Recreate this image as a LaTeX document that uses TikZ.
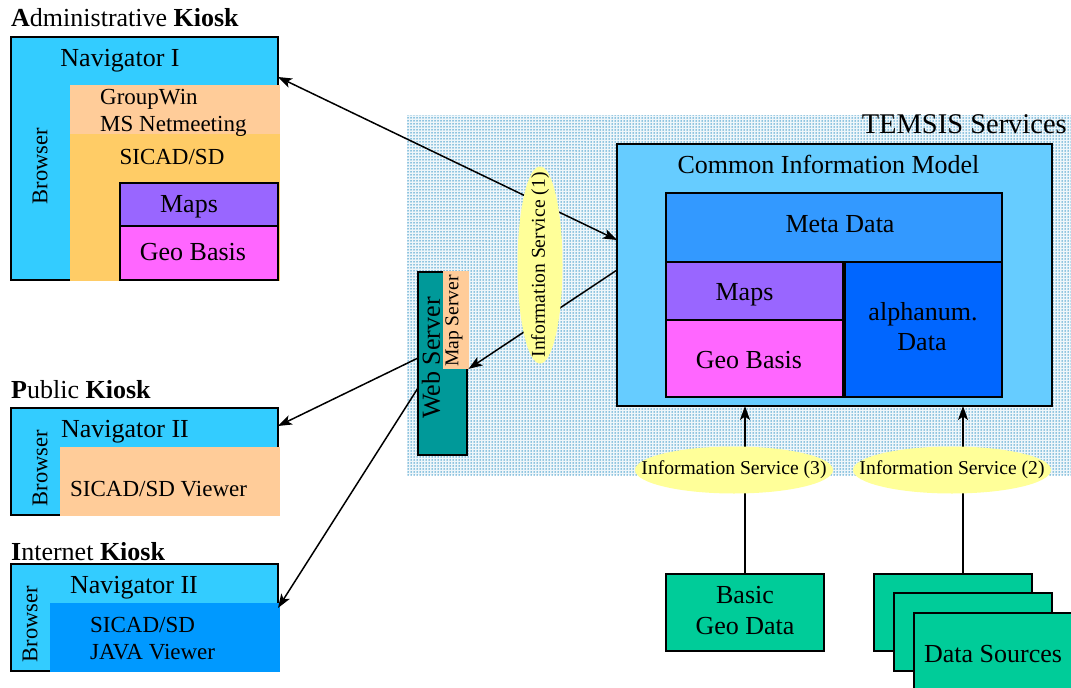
\documentclass[tikz,border=0pt]{standalone}
\usepackage{fontspec}
\setmainfont{Liberation Serif}
\usetikzlibrary{arrows.meta,shapes.geometric,patterns.meta}
\definecolor{kcyan}{HTML}{33CCFF}
\definecolor{kpeach}{HTML}{FFCC99}
\definecolor{korange}{HTML}{FFCC66}
\definecolor{kpurple}{HTML}{9966FF}
\definecolor{kmagenta}{HTML}{FF66FF}
\definecolor{klblue}{HTML}{66CCFF}
\definecolor{kmeta}{HTML}{3399FF}
\definecolor{kalpha}{HTML}{0066FF}
\definecolor{kjava}{HTML}{0099FF}
\definecolor{kteal}{HTML}{009999}
\definecolor{kgreen}{HTML}{00CC99}
\definecolor{kyellow}{HTML}{FFFF99}
\definecolor{kdots}{HTML}{2A8FC4}
\definecolor{kdotbg}{HTML}{EEF6FA}
\tikzset{kt/.tip={Stealth[length=14pt,width=10pt,inset=3.5pt]}}
\begin{document}
\begin{tikzpicture}[x=1pt,y=-1pt,
  box/.style={draw=black, line width=1.2pt, inner sep=0pt, outer sep=0pt, anchor=north west},
  area/.style={inner sep=0pt, outer sep=0pt, anchor=north west},
  big/.style={inner sep=0pt, font=\fontsize{26}{31}\selectfont},
  mid/.style={inner sep=0pt, font=\fontsize{23}{27}\selectfont},
  brw/.style={inner sep=0pt, rotate=90, font=\fontsize{22.5}{27}\selectfont},
  small/.style={inner sep=0pt, font=\fontsize{19.6}{23}\selectfont},
  iserv/.style={ellipse, fill=kyellow, inner sep=0pt, minimum width=198pt, minimum height=47pt},
  arr/.style={line width=1.5pt, draw=black}
]
\useasboundingbox (0,0) rectangle (1071,688);
\fill[white] (0,0) rectangle (1071,688);

% TEMSIS services background
\node[area, fill=kdotbg, minimum width=664pt, minimum height=360pt] (temsis) at (407,115) {};
\fill[pattern={Dots[distance=3pt, radius=0.75pt]}, pattern color=kdots] (temsis.north west) rectangle (temsis.south east);
\node[inner sep=0pt, anchor=base east, font=\fontsize{28.5}{33}\selectfont] (temsisT) at (1067,133) {TEMSIS Services};

% Common Information Model
\node[box, fill=klblue, minimum width=435pt, minimum height=262pt] (cim) at (617,144) {};
\node[big, anchor=base] (cimT) at (828.5,173) {Common Information Model};
\node[box, fill=kmeta, minimum width=336pt, minimum height=69pt] (meta) at (666,193) {};
\node[big, anchor=base] (metaT) at (840,232) {Meta Data};
\node[box, fill=kpurple, minimum width=177pt, minimum height=58pt] (cmaps) at (666,262) {};
\node[big, anchor=base] (cmapsT) at (744.5,300) {Maps};
\node[box, fill=kmagenta, minimum width=177pt, minimum height=77pt] (cgeo) at (666,320) {};
\node[big, anchor=base] (cgeoT) at (749,368) {Geo Basis};
\node[box, fill=kalpha, minimum width=157pt, minimum height=135pt] (alpha) at (845,262) {};
\node[big, anchor=base] (alphaT1) at (923,320) {alphanum.};
\node[big, anchor=base] (alphaT2) at (922,350) {Data};

% Web server
\node[box, fill=kteal, minimum width=49pt, minimum height=183pt] (web) at (418,272) {};
\node[area, fill=kpeach, minimum width=25.5pt, minimum height=97.5pt] (mapsrv) at (443,271.4) {};
\node[big, rotate=90] (webT) at (431,358) {Web Server};
\node[small, rotate=90] (mapsrvT) at (454,321) {Map Server};

% Administrative kiosk
\node[inner sep=0pt, anchor=base west, font=\fontsize{26}{31}\selectfont] (adminT) at (11,27) {\textbf{A}dministrative \textbf{Kiosk}};
\node[box, fill=kcyan, minimum width=267pt, minimum height=243pt] (admin) at (11,37) {};
\node[area, fill=kpeach, minimum width=209.6pt, minimum height=49pt] (groupw) at (70,85) {};
\node[area, fill=korange, minimum width=209.6pt, minimum height=147pt] (sicadA) at (70,134) {};
\node[box, fill=kpurple, minimum width=158pt, minimum height=43pt] (amaps) at (120,183) {};
\node[box, fill=kmagenta, minimum width=158pt, minimum height=54pt] (ageo) at (120,226) {};
\node[big, anchor=base] (navA) at (120,66) {Navigator I};
\node[mid, anchor=base west] (gwT1) at (100,104) {GroupWin};
\node[mid, anchor=base west] (gwT2) at (100,131) {MS Netmeeting};
\node[mid, anchor=base] (sicadAT) at (172,164) {SICAD/SD};
\node[big, anchor=base] (amapsT) at (189,212) {Maps};
\node[big, anchor=base] (ageoT) at (193,260) {Geo Basis};
\node[brw] (brA) at (40,166) {Browser};

% Public kiosk
\node[inner sep=0pt, anchor=base west, font=\fontsize{26}{31}\selectfont] (pubT) at (11,398) {\textbf{P}ublic \textbf{Kiosk}};
\node[box, fill=kcyan, minimum width=267pt, minimum height=107pt] (pub) at (11,408) {};
\node[area, fill=kpeach, minimum width=219.6pt, minimum height=69pt] (pubview) at (60,447) {};
\node[big, anchor=base] (navP) at (125,437) {Navigator II};
\node[mid, anchor=base west] (pubviewT) at (70,496) {SICAD/SD Viewer};
\node[brw] (brP) at (40,468) {Browser};

% Internet kiosk
\node[inner sep=0pt, anchor=base west, font=\fontsize{26}{31}\selectfont] (intT) at (11,560) {\textbf{I}nternet \textbf{Kiosk}};
\node[box, fill=kcyan, minimum width=267pt, minimum height=107pt] (inet) at (11,564) {};
\node[area, fill=kjava, minimum width=229.6pt, minimum height=69pt] (java) at (50,603) {};
\node[big, anchor=base] (navI) at (134,593) {Navigator II};
\node[mid, anchor=base west] (javaT1) at (90,632) {SICAD/SD};
\node[mid, anchor=base west] (javaT2) at (90,659) {JAVA Viewer};
\node[brw] (brI) at (30,624) {Browser};

% Data sources
\node[box, fill=kgreen, minimum width=158pt, minimum height=77pt] (bgd) at (666,574) {};
\node[big, anchor=base] (bgdT1) at (745,603) {Basic};
\node[big, anchor=base] (bgdT2) at (745,634) {Geo Data};
\node[box, fill=kgreen, minimum width=158pt, minimum height=77pt] (ds1) at (874,574) {};
\node[box, fill=kgreen, minimum width=158pt, minimum height=78pt] (ds2) at (894,593) {};
\node[box, fill=kgreen, minimum width=158pt, minimum height=77pt] (ds3) at (914,613) {};
\node[big, anchor=base] (dsT) at (993,662) {Data Sources};

% connectors
\coordinate (dstop) at ([xshift=10pt]ds1.north);
\draw[arr, {kt}-{kt}] ([yshift=-40pt]admin.north east) -- ([yshift=-96pt]cim.north west);
\draw[arr, -{kt}] ([yshift=-126pt]cim.north west) -- (mapsrv.south east);
\draw[arr, -{kt}] ([yshift=-86pt]web.north west) -- ([yshift=-18pt]pub.north east);
\draw[arr, -{kt}] ([yshift=-116pt]web.north west) -- ([yshift=-44pt]inet.north east);
\draw[arr, -{kt}] (bgd.north) -- (bgd.north |- cim.south);
\draw[arr, -{kt}] (dstop) -- (dstop |- cim.south);

% information services
\node[iserv, minimum width=197pt, minimum height=45pt, rotate=90] (is1) at (540,265) {};
\node[small, rotate=90] (is1T) at (is1) {Information Service (1)};
\node[iserv] (is3) at (734,470) {};
\node[small] (is3T) at (is3) {Information Service (3)};
\node[iserv] (is2) at (952,470) {};
\node[small] (is2T) at (is2) {Information Service (2)};
\end{tikzpicture}
\end{document}
